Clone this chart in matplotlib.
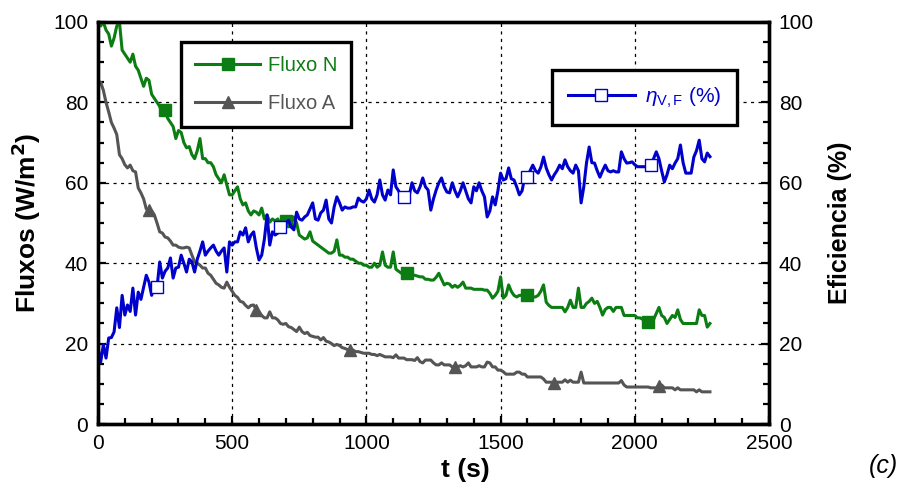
import numpy as np
import matplotlib
matplotlib.use('Agg')
import matplotlib.pyplot as plt
from matplotlib.ticker import MultipleLocator

plt.rcParams['font.family'] = 'Liberation Sans'
plt.rcParams['mathtext.fontset'] = 'custom'
plt.rcParams['mathtext.rm'] = 'Liberation Sans'
plt.rcParams['mathtext.it'] = 'Liberation Sans:italic'

# time axis, one reading every 10 s
t = np.arange(0, 2290, 10)

# Fluxo N (W/m2)
flux_n = [
    100, 99, 100, 98, 97, 94, 96, 99, 100, 93,
    92, 91, 90, 92, 89, 88, 86, 84, 86, 85.5,
    82, 81, 80, 79, 77, 78, 76, 75, 74, 71,
    73, 72.5, 70, 68.7, 69, 67, 66, 68, 71, 66,
    66, 65, 65, 64, 62, 61, 60, 62, 59.5, 57,
    57, 58, 59, 56, 54.5, 55, 53, 52, 53, 52.7,
    52, 53.7, 51, 52, 50.2, 51, 50.5, 51, 49.5, 51,
    50.5, 51, 50, 51.5, 50, 47, 46.5, 46, 46.3, 47.8,
    45.5, 45, 44.5, 44, 43.5, 43, 42.5, 42.5, 43, 45.8,
    42, 42, 41.5, 41.5, 41, 41, 40.5, 40, 40, 39.5,
    39.5, 39, 39, 40, 39, 39.5, 42.8, 39.5, 39, 39,
    42.8, 38.5, 38, 37.5, 37.5, 37.5, 37, 37, 37, 36.8,
    36.6, 36.6, 36, 36, 35.8, 35.8, 36.5, 37.5, 36, 34.6,
    35, 34.8, 34, 34.5, 34, 34.5, 35.3, 33.8, 33.8, 33.8,
    33.5, 33.5, 33.5, 33.5, 33.3, 33.3, 32.5, 31.3, 32, 33,
    36.6, 31.3, 32, 34.6, 33, 32, 31.6, 32, 32, 32,
    32, 32, 31.6, 31.6, 32, 33, 34.6, 30.3, 29.5, 29,
    29, 29, 29, 29, 27.9, 29, 30.8, 29, 29, 33.8,
    29, 29, 30, 30.5, 31.3, 30, 30.5, 29, 27.1, 28.5,
    29, 29, 28, 29, 29, 29, 27, 27, 27, 27,
    27, 26.4, 26.4, 26, 25.4, 25.4, 25.4, 26, 27.5, 29,
    27, 26.5, 25, 26, 27, 26.5, 28.4, 26, 25, 25,
    25, 25, 25, 25, 28.4, 27, 27, 24.1, 25,
]

# Fluxo A (W/m2)
flux_a = [
    85, 85, 83, 80, 77.6, 75, 73.6, 72, 67, 66,
    64.5, 63.7, 64.4, 63, 62.7, 58.7, 57.5, 56, 53.5, 53.2,
    53, 52, 50, 47.8, 47.5, 46.5, 46.3, 45.5, 44.5, 44.5,
    44, 43.8, 43.8, 44, 43.8, 42, 40.3, 40, 39.5, 38.8,
    38.8, 37.5, 37, 36, 35, 34.6, 34, 33.8, 35.3, 34,
    33, 32, 31.5, 30.5, 30.3, 29.5, 28.9, 29.5, 29.6, 28.4,
    27.9, 27, 26.4, 26.4, 27.9, 26.4, 26.4, 25.9, 25, 24.8,
    25, 24.2, 24, 23.5, 23, 24.1, 23, 22.5, 22.8, 22,
    21.8, 21.6, 21.6, 20.9, 21.5, 20.6, 20.4, 20, 19.5, 19.8,
    19.5, 19, 18.8, 18.5, 18.4, 18.4, 18, 18, 17.8, 17.6,
    17.6, 17.6, 17.3, 17.3, 17, 17.3, 17, 16.7, 16.7, 16.7,
    16.5, 17.2, 16.4, 16.4, 16.4, 16, 16, 16, 15.8, 16.5,
    15.5, 15.2, 15.9, 15.9, 15.9, 15.2, 14.7, 14.7, 15.2, 14.7,
    14.7, 14.7, 14.2, 14.2, 14.2, 14.5, 14.2, 14.5, 15.2, 14.2,
    14.2, 14.2, 14.5, 14.2, 14.2, 15.4, 15.2, 14.2, 14.2, 13.4,
    13.4, 13, 12.4, 12.4, 12.4, 12.4, 12.9, 12.9, 12.4, 12.4,
    11.7, 11.7, 11.7, 11.7, 11.7, 11.7, 11.2, 10.4, 10.4, 10.4,
    10.2, 10.4, 10.4, 10.4, 11, 10.4, 10.9, 10.4, 10.4, 10.4,
    12.9, 10.2, 10.2, 10.2, 10.2, 10.2, 10.2, 10.2, 10.2, 10.2,
    10.2, 10.2, 10.2, 10.2, 10.2, 10.8, 9.7, 9.2, 9.2, 9.2,
    9.2, 9.2, 9.2, 9.2, 9.2, 9.2, 9, 9, 9, 9.5,
    9.7, 9, 9, 9, 9, 8.5, 9, 8.5, 8.5, 8.5,
    8.5, 8.5, 8.5, 8, 8.5, 8, 8, 8, 8,
]

# eficiencia eta_V,F (%)
eta_vf = [
    19, 15.4, 19.7, 16.4, 21.4, 21.5, 22.9, 28.9, 24, 32,
    27.1, 29.6, 28, 33.8, 27.1, 32.8, 31, 34, 37, 35.3,
    32, 35, 34, 40.3, 36.3, 38, 38.8, 41.3, 36.3, 38.8,
    39, 42, 40, 37.8, 41, 40.3, 37.8, 41, 43, 45.3,
    42, 43, 43.8, 44.5, 43, 42, 43, 43.8, 37.8, 45.3,
    44.5, 45.3, 45.3, 47.8, 47, 48.8, 45.3, 47, 47.8, 43.8,
    40.8, 42, 46, 52, 44.5, 47.8, 47, 47.5, 49, 49,
    50, 50.7, 49, 48.3, 52.7, 51, 50.7, 51.5, 52, 53.5,
    55, 51, 50.7, 52.5, 53.2, 55.7, 51, 50, 54, 56.5,
    55, 53.2, 54, 53.7, 53.7, 54, 54, 56.2, 55.5, 55.2,
    56, 58.2, 56, 55.2, 57, 60.7, 57, 55.7, 58.2, 57,
    63.2, 59, 58, 56.5, 56.5, 57, 57, 60, 58, 57.5,
    59, 61.2, 59, 58.2, 53.2, 56, 58.2, 60, 61.2, 59,
    57.7, 57.5, 60, 58, 56.5, 58, 60, 58, 56, 55,
    59, 58, 60, 58, 56.5, 51.5, 53, 56.5, 54.5, 58,
    62.4, 60.7, 61, 63.7, 61, 60.7, 59, 57, 58, 61.4,
    61.4, 63, 64.4, 63, 62.4, 63.9, 66.4, 63.7, 62, 60.7,
    62, 63, 64.4, 63.5, 65.7, 64, 63, 62.4, 64.4, 63,
    55, 59, 64.9, 68.9, 65, 64.9, 63, 61.4, 63, 64.4,
    63, 62.7, 63, 62.7, 62.7, 67.7, 66, 64.9, 65, 65.2,
    64.5, 64, 64, 64, 64, 64, 64.5, 66, 67.7, 66,
    63, 60.2, 62, 64.4, 63.5, 64.9, 66, 69.4, 65, 62.4,
    62.4, 62.4, 66.4, 68, 70.6, 66, 65.2, 67.4, 66.5,
]

green = '#0b7d12'
grey = '#555555'
blue = '#0000cc'

fig = plt.figure(figsize=(9.03, 4.94), dpi=100)
ax = fig.add_axes([0.1085, 0.1417, 0.7431, 0.8138])

ax.plot(t, flux_n, color=green, lw=2.2, marker='s', ms=8.5,
        markevery=(25, 45), label='Fluxo N', zorder=3)
ax.plot(t, flux_a, color=grey, lw=2.2, marker='^', ms=8.5,
        markevery=[19, 59, 94, 133, 170, 209], label='Fluxo A', zorder=2)

ax.set_xlim(0, 2500)
ax.set_ylim(0, 100)
ax.xaxis.set_major_locator(MultipleLocator(500))
ax.xaxis.set_minor_locator(MultipleLocator(100))
ax.yaxis.set_major_locator(MultipleLocator(20))
ax.yaxis.set_minor_locator(MultipleLocator(5))
ax.grid(True, which='major', color='black', linestyle=(0, (2.5, 3.5)), lw=0.9)
ax.tick_params(which='both', direction='in', labelsize=15, width=1.6)
ax.tick_params(which='major', length=6, pad=7)
ax.tick_params(which='minor', length=4)
ax.tick_params(axis='y', right=False)
for s in ax.spines.values():
    s.set_linewidth(2.4)

ax.set_xlabel('t (s)', fontsize=19, fontweight='bold')
ax.xaxis.set_label_coords(0.547, -0.085)
ax.set_ylabel('Fluxos (W/m$^\\mathbf{2}$)', fontsize=19, fontweight='bold')
ax.yaxis.set_label_coords(-0.082, 0.5)

leg1 = ax.legend(loc='upper left', bbox_to_anchor=(0.124, 0.95), borderaxespad=0,
                 fontsize=14.5, frameon=True, fancybox=False, edgecolor='black',
                 framealpha=1, handlelength=3.2, borderpad=0.7, labelspacing=0.95,
                 handletextpad=0.4)
leg1.get_frame().set_linewidth(2.4)
for txt, c in zip(leg1.get_texts(), [green, grey]):
    txt.set_color(c)

ax2 = ax.twinx()
ax2.plot(t, eta_vf, color=blue, lw=2.2, marker='s', ms=8.5, mfc='white',
         mec=blue, mew=1.0, markevery=(22, 46), label=r'$\eta_{\mathrm{V,F}}$ (%)')
ax2.set_ylim(0, 100)
ax2.yaxis.set_major_locator(MultipleLocator(20))
ax2.yaxis.set_minor_locator(MultipleLocator(5))
ax2.tick_params(which='both', direction='in', labelsize=15, width=1.6)
ax2.tick_params(which='major', length=6, pad=7)
ax2.tick_params(which='minor', length=4)
ax2.set_ylabel('Eficiencia (%)', fontsize=18, fontweight='bold')
ax2.yaxis.set_label_coords(1.088, 0.5)
for s in ax2.spines.values():
    s.set_linewidth(2.4)

leg2 = ax2.legend(loc='upper left', bbox_to_anchor=(0.677, 0.881), borderaxespad=0,
                  fontsize=15, frameon=True, fancybox=False, edgecolor='black',
                  framealpha=1, handlelength=3.2, borderpad=0.75, handletextpad=0.5)
leg2.get_frame().set_linewidth(2.4)
leg2.get_texts()[0].set_color(blue)

fig.text(0.995, 0.057, '(c)', fontsize=18, style='italic', ha='right', va='center')

fig.savefig('out.png', dpi=100)
